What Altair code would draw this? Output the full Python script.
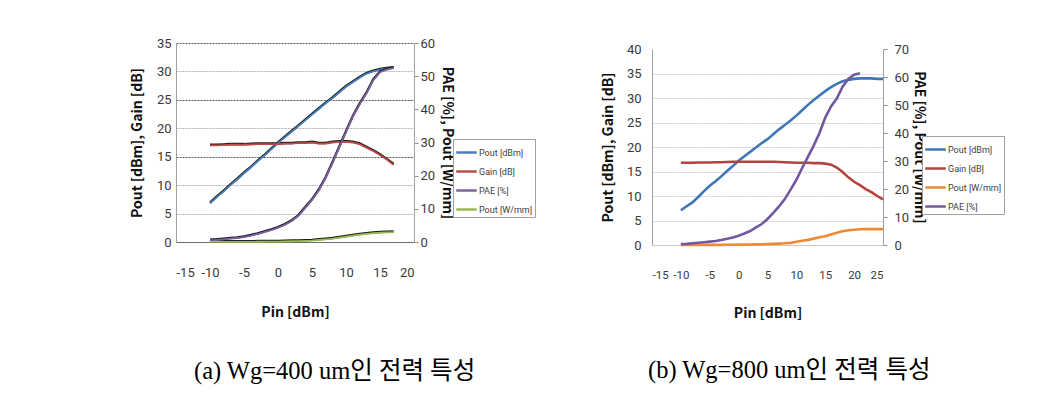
import altair as alt
import pandas as pd

# ---------------- data (a) Wg=400 um ----------------
pin_a = list(range(-10, 18))
pout_dbm_a = [6.8, 7.9, 8.9, 10.0, 11.0, 12.1, 13.1, 14.2, 15.2, 16.3,
              17.4, 18.4, 19.4, 20.4, 21.4, 22.4, 23.4, 24.4, 25.3, 26.3,
              27.3, 28.1, 28.9, 29.6, 30.0, 30.3, 30.5, 30.6]
gain_a = [17.0, 17.0, 17.05, 17.1, 17.1, 17.1, 17.15, 17.2, 17.2, 17.2,
          17.2, 17.3, 17.3, 17.4, 17.4, 17.5, 17.3, 17.3, 17.5, 17.6,
          17.6, 17.5, 17.2, 16.6, 16.0, 15.3, 14.5, 13.6]
pae_a = [0.5, 0.6, 0.8, 1.0, 1.2, 1.5, 1.9, 2.4, 3.0, 3.6,
         4.3, 5.2, 6.3, 7.9, 10.3, 12.7, 15.6, 19.3, 23.8, 28.5,
         33.2, 37.8, 41.5, 44.8, 48.8, 51.2, 52.0, 52.5]
pout_w_a = [0.01, 0.02, 0.02, 0.03, 0.03, 0.04, 0.05, 0.07, 0.08, 0.11,
            0.14, 0.17, 0.22, 0.27, 0.34, 0.43, 0.6, 0.8, 1.0, 1.3,
            1.6, 1.9, 2.2, 2.45, 2.65, 2.8, 2.9, 2.95]

# ---------------- data (b) Wg=800 um ----------------
pin_b = list(range(-10, 26))
pout_dbm_b = [7.1, 7.9, 8.7, 9.8, 11.0, 12.1, 13.0, 14.0, 15.1, 16.1,
              17.2, 18.1, 19.0, 19.9, 20.8, 21.6, 22.6, 23.6, 24.5, 25.4,
              26.4, 27.5, 28.6, 29.6, 30.5, 31.4, 32.2, 32.9, 33.4, 33.7,
              33.9, 34.0, 34.0, 34.0, 33.9, 33.9]
gain_b = [16.8, 16.8, 16.8, 16.85, 16.85, 16.85, 16.9, 16.9, 16.95, 17.0,
          17.0, 17.0, 17.0, 17.0, 17.0, 17.0, 17.0, 16.95, 16.9, 16.85,
          16.8, 16.8, 16.8, 16.7, 16.7, 16.6, 16.4, 15.8, 14.9, 13.8,
          12.9, 12.2, 11.4, 10.8, 10.0, 9.3]
pin_pae_b = list(range(-10, 22))
pae_b = [0.3, 0.4, 0.6, 0.8, 1.0, 1.2, 1.4, 1.8, 2.2, 2.7,
         3.3, 4.1, 5.0, 6.3, 7.5, 9.3, 11.5, 13.8, 16.4, 19.8,
         23.3, 27.5, 31.5, 35.5, 40.0, 45.5, 49.5, 52.3, 56.5, 59.3,
         60.8, 61.3]
pout_w_b = [0.01, 0.01, 0.01, 0.01, 0.02, 0.02, 0.03, 0.03, 0.04, 0.05,
            0.07, 0.08, 0.1, 0.12, 0.15, 0.18, 0.23, 0.29, 0.35, 0.44,
            0.65, 0.85, 1.05, 1.3, 1.6, 1.8, 2.15, 2.5, 2.8, 3.0,
            3.1, 3.2, 3.25, 3.25, 3.25, 3.25]

series_a = ["Pout [dBm]", "Gain [dB]", "PAE [%]", "Pout [W/mm]"]
colors_a = ["#4a7ebb", "#be4b48", "#7d60a0", "#98b954"]
series_b = ["Pout [dBm]", "Gain [dB]", "Pout [W/mm]", "PAE [%]"]
colors_b = ["#3f77b6", "#b5433f", "#ee8a36", "#7357a0"]

caption_a = "(a) Wg=400 um인 전력 특성"
caption_b = "(b) Wg=800 um인 전력 특성"


def rows(pin, vals, name):
    return [{"pin": p, "value": v, "series": name} for p, v in zip(pin, vals)]


FONT = "Noto Sans CJK KR"
LABEL_FONT = "Roboto"
LEG_FONT = "Roboto"
CAP_FONT = "Liberation Serif, Noto Sans CJK KR"


def legend(x, y):
    return alt.Legend(orient="none", legendX=x, legendY=y, title=None,
                      symbolType="stroke", symbolSize=420, symbolStrokeWidth=2.5,
                      labelFontSize=9, labelColor="#404040", labelFont=LEG_FONT,
                      strokeColor="#a0a0a0", fillColor="white", padding=2,
                      rowPadding=2, labelOffset=1)


def panel(left_df, right_df, series, colors, xdom, xvals, ylmax, yrmax,
          yrstep, leg, width, height, sw, shadow, grid_cond, lab_pad_l,
          title_pad_l, lab_pad_r, title_pad_r, xdomain_color, xfs):
    color = alt.Color("series:N", scale=alt.Scale(domain=series, range=colors),
                      legend=leg)
    x = alt.X("pin:Q", scale=alt.Scale(domain=xdom, nice=False),
              axis=alt.Axis(values=xvals, title="Pin [dBm]", grid=False,
                            ticks=False, labelPadding=24, titlePadding=26,
                            labelFontSize=xfs,
                            labelOverlap=False, labelExpr="'' + datum.value",
                            domainColor=xdomain_color))
    yl = alt.Y("value:Q", scale=alt.Scale(domain=[0, ylmax], nice=False),
               axis=alt.Axis(values=list(range(0, ylmax + 1, 5)),
                             title="Pout [dBm], Gain [dB]", ticks=False,
                             labelPadding=lab_pad_l, titlePadding=title_pad_l,
                             grid=True, gridColor=grid_cond, gridDash=[2, 1],
                             domainColor="#a0a0a0"))
    yr = alt.Y("value:Q", scale=alt.Scale(domain=[0, yrmax], nice=False),
               axis=alt.Axis(orient="right",
                             values=list(range(0, yrmax + 1, yrstep)),
                             title="PAE [%], Pout [W/mm]", grid=False,
                             ticks=True, tickSize=4, tickColor="#909090",
                             labelPadding=lab_pad_r, titlePadding=title_pad_r,
                             domainColor="#a0a0a0"))
    base_l = alt.Chart(left_df).encode(x=x, y=yl, detail="series:N")
    base_r = alt.Chart(right_df).encode(x=x, y=yr, detail="series:N")
    if shadow:
        left = alt.layer(
            base_l.mark_line(color="#1e1e1e", strokeWidth=sw + 0.6, yOffset=-0.7),
            base_l.mark_line(strokeWidth=sw).encode(color=color))
        right = alt.layer(
            base_r.mark_line(color="#1e1e1e", strokeWidth=sw + 0.6, yOffset=-0.7),
            base_r.mark_line(strokeWidth=sw).encode(color=color))
    else:
        left = base_l.mark_line(strokeWidth=sw).encode(color=color)
        right = base_r.mark_line(strokeWidth=sw).encode(color=color)
    return alt.layer(left, right).resolve_scale(y="independent").properties(
        width=width, height=height)


grid_a = {"condition": {"test": "datum.value == 15 || datum.value == 25 || datum.value == 35",
                        "value": "#5a5a5a"}, "value": "#b4b4b4"}
grid_b = {"condition": {"test": "datum.value >= 40", "value": "rgba(0,0,0,0)"},
          "value": "#cfcfcf"}

left_a = pd.DataFrame(rows(pin_a, pout_dbm_a, "Pout [dBm]") + rows(pin_a, gain_a, "Gain [dB]"))
right_a = pd.DataFrame(rows(pin_a, pae_a, "PAE [%]") + rows(pin_a, pout_w_a, "Pout [W/mm]"))
left_b = pd.DataFrame(rows(pin_b, pout_dbm_b, "Pout [dBm]") + rows(pin_b, gain_b, "Gain [dB]")
                      + rows(pin_b, pout_w_b, "Pout [W/mm]"))
right_b = pd.DataFrame(rows(pin_pae_b, pae_b, "PAE [%]"))

chart_a = panel(left_a, right_a, series_a, colors_a, [-15, 20], list(range(-15, 21, 5)),
                35, 60, 10, legend(277, 96), 238, 199, 1.8, True, grid_a,
                5, 12, 2, 5, "#6e6e6e", 13).properties(
    title=alt.TitleParams(caption_a, orient="bottom", anchor="start", frame="group",
                          dx=18, offset=41, font=CAP_FONT,
                          fontSize=24.5, fontWeight="normal", color="black"))

chart_b_inner = panel(left_b, right_b, series_b, colors_b, [-15, 25], list(range(-15, 26, 5)),
                      40, 70, 10, legend(270, 93), 231, 196, 2.6, False, grid_b,
                      11, 11, 7, 3, "#c8c8c8", 11.5)

spacer = alt.Chart(pd.DataFrame({"d": [0]})).mark_point(opacity=0, size=1).properties(
    width=10, height=1)

chart_b = alt.vconcat(spacer, chart_b_inner, spacing=-1).properties(
    title=alt.TitleParams(caption_b, orient="bottom", anchor="start", frame="group",
                          dx=-4, offset=38, font=CAP_FONT,
                          fontSize=24.5, fontWeight="normal", color="black"))

chart = alt.hconcat(chart_a, chart_b, spacing=65).resolve_scale(
    color="independent").properties(
    padding={"left": 122, "top": 29, "right": 5, "bottom": 5}
).configure_view(stroke=None).configure_axis(
    labelFont=LABEL_FONT, labelFontSize=13, labelColor="#3a3a3a",
    titleFont=FONT, titleFontSize=14, titleFontWeight="bold", titleColor="#111111"
)

chart.save("out.html", embed_options={"renderer": "svg", "actions": False})
